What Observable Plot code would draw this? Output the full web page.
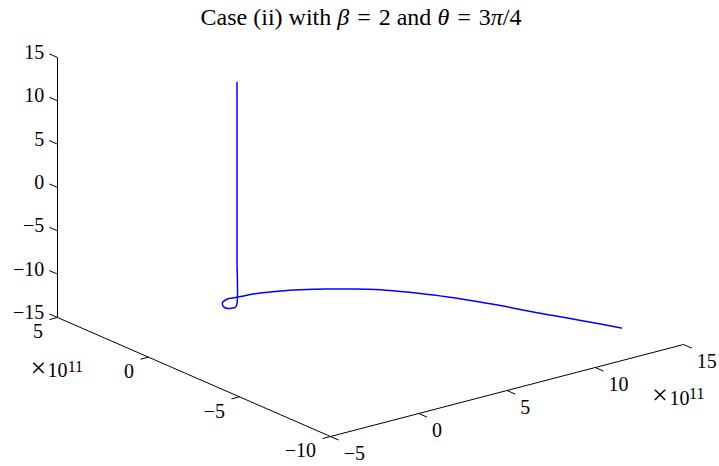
<!DOCTYPE html>
<html><head><meta charset="utf-8">
<script src="https://cdn.jsdelivr.net/npm/d3@7"></script>
<script src="https://cdn.jsdelivr.net/npm/@observablehq/plot@0.6"></script>
<style>
body{margin:0;background:#fff;}
svg{display:block;}
</style></head><body>
<div id="chart"></div>
<script>
// Trajectory (x, y in units of 1e11; z plain)
const trajX = [2.50, 2.50, 2.50, 2.50, 2.50, 2.50, 2.17, 1.98, 1.76, 1.78, 2.07, 2.46, 2.79, 3.20, 3.71, 4.19, 5.06, 5.87, 6.82, 7.71, 8.55, 9.28, 10.16, 10.96, 11.68, 12.32, 13.04, 13.72, 14.14];
const trajY = [2.41, 2.41, 2.41, 2.41, 2.41, 2.41, 2.17, 2.15, 2.22, 2.46, 2.79, 2.95, 2.94, 2.89, 2.85, 2.76, 2.51, 2.19, 1.74, 1.22, 0.67, 0.00, -0.96, -2.05, -3.16, -4.35, -5.52, -6.68, -7.42];
const trajZ = [10.5, 5, 0, -5, -10, -15, -15, -15, -15, -15, -15, -15, -15, -15, -15, -15, -15, -15, -15, -15, -15, -15, -15, -15, -15, -15, -15, -15, -15];

const xTicks = [-5, 0, 5, 10, 15];
const yTicks = [-10, -5, 0, 5];
const zTicks = [-15, -10, -5, 0, 5, 10, 15];
const xLim = [-5, 15], yLim = [-10, 5], zLim = [-15, 15];
const expParts = ["\u00d7", "10", "11"];
const titleParts = [["Case (ii) with ", false], ["\u03b2", true], ["\u2004=\u20042 and ", false], ["\u03b8", true], ["\u2004=\u20043", false], ["\u03c0", true], ["/4", false]];

// view (oblique projection of the axes box)
const W = 719, H = 466;
const O = [330, 436];
const EX = [17.65, -4.6], EY = [-18.2, -7.933], EZ = [0, -8.667];
function proj(x, y, z) {
  const a = x - xLim[0], b = y - yLim[0], c = z - zLim[0];
  return [O[0] + a*EX[0] + b*EY[0] + c*EZ[0], O[1] + a*EX[1] + b*EY[1] + c*EZ[1]];
}
const curve = trajX.map((x, i) => { const p = proj(x, trajY[i], trajZ[i]); return {u: p[0], v: p[1]}; });
const seg = (p, q) => ({x1: p[0], y1: p[1], x2: q[0], y2: q[1]});
const axes = [
  seg(proj(xLim[0], yLim[0], zLim[0]), proj(xLim[1], yLim[0], zLim[0])),
  seg(proj(xLim[0], yLim[0], zLim[0]), proj(xLim[0], yLim[1], zLim[0])),
  seg(proj(xLim[0], yLim[1], zLim[0]), proj(xLim[0], yLim[1], zLim[1]))
];
const tk = 0.45;
const xTickSeg = xTicks.map(t => seg(proj(t, yLim[0], zLim[0]), proj(t, yLim[0]-tk, zLim[0])));
const yTickSeg = yTicks.map(t => seg(proj(xLim[0], t, zLim[0]), proj(xLim[0]-tk, t, zLim[0])));
const zTickSeg = zTicks.map(t => seg(proj(xLim[0], yLim[1], t), proj(xLim[0], yLim[1]+tk, t)));
const fmt = t => (t < 0 ? "\u2212" + Math.abs(t) : String(t));
const xLab = xTicks.map(t => { const p = proj(t, yLim[0]-tk, zLim[0]); return {u: p[0], v: p[1], s: fmt(t)}; });
const yLab = yTicks.map(t => { const p = proj(xLim[0]-tk, t, zLim[0]); return {u: p[0], v: p[1], s: fmt(t)}; });
const zLab = zTicks.map(t => { const p = proj(xLim[0], yLim[1]+tk, t); return {u: p[0], v: p[1], s: fmt(t)}; });
const yEnd = proj(xLim[0], yLim[1], zLim[0]);
const xEnd = proj(xLim[1], yLim[0], zLim[0]);

const font = "Liberation Serif";
const fs = 20;
function expMarks(p, off) {
  const pt = [{u: p[0], v: p[1]}];
  return [
    Plot.text(pt, {x: "u", y: "v", text: () => expParts[0], textAnchor: "middle", lineAnchor: "middle", dx: off[0][0], dy: off[0][1], fontSize: 28, fill: "black"}),
    Plot.text(pt, {x: "u", y: "v", text: () => expParts[1], textAnchor: "start", lineAnchor: "middle", dx: off[1][0], dy: off[1][1], fontSize: fs, fill: "black"}),
    Plot.text(pt, {x: "u", y: "v", text: () => expParts[2], textAnchor: "start", lineAnchor: "middle", dx: off[2][0], dy: off[2][1], fontSize: 16, fill: "black"})
  ];
}
const chart = Plot.plot({
  width: W, height: H,
  margin: 0,
  x: {domain: [0, W], range: [0, W], axis: null},
  y: {domain: [0, H], range: [0, H], axis: null},
  style: {fontFamily: font, background: "#fff"},
  marks: [
    Plot.link(axes, {x1: "x1", y1: "y1", x2: "x2", y2: "y2", stroke: "black", strokeWidth: 1}),
    Plot.link([...xTickSeg, ...yTickSeg, ...zTickSeg], {x1: "x1", y1: "y1", x2: "x2", y2: "y2", stroke: "black", strokeWidth: 1}),
    Plot.line(curve, {x: "u", y: "v", stroke: "#0000ff", strokeWidth: 1.5, curve: "catmull-rom"}),
    Plot.text(zLab, {x: "u", y: "v", text: "s", textAnchor: "end", lineAnchor: "middle", dx: -5, dy: -1.5, fontSize: fs, fill: "black"}),
    Plot.text(yLab, {x: "u", y: "v", text: "s", textAnchor: "end", lineAnchor: "middle", dx: -6.5, dy: 12.5, fontSize: fs, fill: "black"}),
    Plot.text(xLab, {x: "u", y: "v", text: "s", textAnchor: "start", lineAnchor: "middle", dx: 5, dy: 13.5, fontSize: fs, fill: "black"}),
    ...expMarks(yEnd, [[-19, 50.5], [-10, 52.6], [10.2, 48.9]]),
    ...expMarks(xEnd, [[-23.5, 51], [-14, 53.6], [5.5, 48.9]])
  ]
});
document.getElementById("chart").appendChild(chart);

// title with italic math symbols
const svg = d3.select(chart.tagName.toLowerCase() === "svg" ? chart : chart.querySelector("svg"));
const title = svg.append("text").attr("x", 361).attr("y", 24.5).attr("text-anchor", "middle")
  .attr("font-family", font).attr("font-size", 24).attr("fill", "black").attr("xml:space", "preserve");
titleParts.forEach(([s, it]) => title.append("tspan").attr("font-style", it ? "italic" : "normal").text(s));
</script>
</body></html>
